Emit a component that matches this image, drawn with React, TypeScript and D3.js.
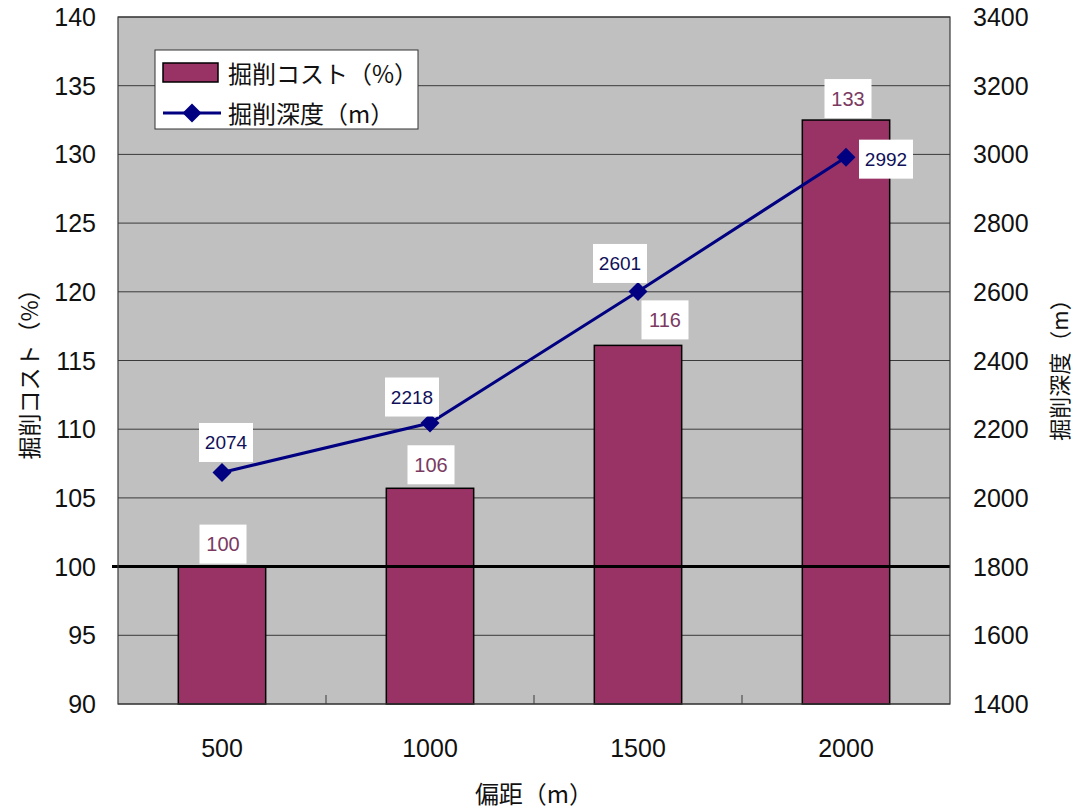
import React from "react";
import * as d3 from "d3";

const categories = ["500", "1000", "1500", "2000"];
const costValues = [100, 105.7, 116.1, 132.5];
const depthValues = [2074, 2218, 2601, 2992];
const leftTicks = [90, 95, 100, 105, 110, 115, 120, 125, 130, 135, 140];
const rightTicks = [1400, 1600, 1800, 2000, 2200, 2400, 2600, 2800, 3000, 3200, 3400];

const seriesNames = ["掘削コスト（%）", "掘削深度（m）"];
const xTitle = "偏距（m）";
const yLeftTitle = "掘削コスト（%）";
const yRightTitle = "掘削深度（m）";

// label placement offsets (manual adjustments, as in the source chart)
const barLabelDx = [1, 1, 27, 2];
const barLabelGap = [3, 4, 6, 2];
const lineLabelDx = [4, -18, -18, 40];
const lineLabelDy = [-30, -26, -28, 2];

const W = 1077;
const H = 809;
const M = { left: 118, right: 950, top: 17, bottom: 704 };

const BAR = "#993366";
const LINE = "#000080";
const FONT = "'Liberation Sans', Arial, sans-serif";
const CJK = "'Noto Sans CJK JP', 'Noto Sans', sans-serif";

export default function App() {
  const x = d3
    .scaleBand<string>()
    .domain(categories)
    .range([M.left, M.right])
    .paddingInner(0.58)
    .paddingOuter(0.29);
  const slot = d3.scaleBand<string>().domain(categories).range([M.left, M.right]);
  const yL = d3.scaleLinear().domain([90, 140]).range([M.bottom, M.top]);
  const yR = d3.scaleLinear().domain([1400, 3400]).range([M.bottom, M.top]);

  const line = d3
    .line<number>()
    .x((_, i) => (x(categories[i]) as number) + x.bandwidth() / 2)
    .y((d) => yR(d));

  const boxW = (s: string) => 26 + 7 * s.length;
  const boxH = 39;

  return (
    <svg
      width={W}
      height={H}
      style={{ position: "absolute", left: 0, top: 0, background: "#fff" }}
    >
      <rect x={0} y={0} width={W} height={H} fill="#fff" />
      {/* plot background */}
      <rect
        x={M.left}
        y={M.top}
        width={M.right - M.left}
        height={M.bottom - M.top}
        fill="#c0c0c0"
      />
      {/* grid lines */}
      {leftTicks.map((t) => (
        <line
          key={"g" + t}
          x1={M.left}
          x2={M.right}
          y1={yL(t)}
          y2={yL(t)}
          stroke="#3a3a3a"
          strokeWidth={1}
        />
      ))}
      {/* x category ticks inside bottom */}
      {categories.slice(1).map((c) => (
        <line
          key={"xt" + c}
          x1={slot(c) as number}
          x2={slot(c) as number}
          y1={M.bottom}
          y2={M.bottom - 9}
          stroke="#3a3a3a"
          strokeWidth={1}
        />
      ))}
      {/* bars */}
      {costValues.map((v, i) => (
        <rect
          key={"b" + i}
          x={x(categories[i]) as number}
          y={yL(v)}
          width={x.bandwidth()}
          height={yL(90) - yL(v)}
          fill={BAR}
          stroke="#000"
          strokeWidth={1.5}
        />
      ))}
      {/* baseline at 100 */}
      <line
        x1={M.left - 6}
        x2={M.right}
        y1={yL(100)}
        y2={yL(100)}
        stroke="#000"
        strokeWidth={3}
      />
      {/* plot border */}
      <rect
        x={M.left}
        y={M.top}
        width={M.right - M.left}
        height={M.bottom - M.top}
        fill="none"
        stroke="#3a3a3a"
        strokeWidth={1.2}
      />
      {/* line series */}
      <path d={line(depthValues) || ""} fill="none" stroke={LINE} strokeWidth={3} />
      {depthValues.map((v, i) => {
        const cx = (x(categories[i]) as number) + x.bandwidth() / 2;
        const cy = yR(v);
        const s = 9.5;
        return (
          <path
            key={"m" + i}
            d={`M${cx},${cy - s}L${cx + s},${cy}L${cx},${cy + s}L${cx - s},${cy}Z`}
            fill={LINE}
          />
        );
      })}
      {/* bar labels */}
      {costValues.map((v, i) => {
        const t = String(Math.round(v));
        const cx = (x(categories[i]) as number) + x.bandwidth() / 2 + barLabelDx[i];
        const bottom = yL(v) - barLabelGap[i];
        const w = boxW(t);
        return (
          <g key={"bl" + i}>
            <rect x={cx - w / 2} y={bottom - boxH} width={w} height={boxH} fill="#fff" />
            <text
              x={cx}
              y={bottom - boxH / 2}
              textAnchor="middle"
              dominantBaseline="central"
              fontFamily={FONT}
              fontSize={20}
              fill="#7a3a62"
            >
              {t}
            </text>
          </g>
        );
      })}
      {/* line labels */}
      {depthValues.map((v, i) => {
        const t = String(v);
        const cx = (x(categories[i]) as number) + x.bandwidth() / 2 + lineLabelDx[i];
        const cy = yR(v) + lineLabelDy[i];
        const w = boxW(t);
        return (
          <g key={"ll" + i}>
            <rect x={cx - w / 2} y={cy - boxH / 2} width={w} height={boxH} fill="#fff" />
            <text
              x={cx}
              y={cy}
              textAnchor="middle"
              dominantBaseline="central"
              fontFamily={FONT}
              fontSize={19}
              fill="#10105a"
            >
              {t}
            </text>
          </g>
        );
      })}
      {/* left axis labels */}
      {leftTicks.map((t) => (
        <text
          key={"lt" + t}
          x={96}
          y={yL(t)}
          textAnchor="end"
          dominantBaseline="central"
          fontFamily={FONT}
          fontSize={25}
          fill="#111"
        >
          {t}
        </text>
      ))}
      {/* right axis labels */}
      {rightTicks.map((t) => (
        <text
          key={"rt" + t}
          x={973}
          y={yR(t)}
          textAnchor="start"
          dominantBaseline="central"
          fontFamily={FONT}
          fontSize={25}
          fill="#111"
        >
          {t}
        </text>
      ))}
      {/* x axis labels */}
      {categories.map((c) => (
        <text
          key={"xl" + c}
          x={(slot(c) as number) + slot.bandwidth() / 2}
          y={748}
          textAnchor="middle"
          dominantBaseline="central"
          fontFamily={FONT}
          fontSize={25}
          fill="#111"
        >
          {c}
        </text>
      ))}
      {/* axis titles */}
      <text
        x={(M.left + M.right) / 2}
        y={792}
        textAnchor="middle"
        dominantBaseline="central"
        fontFamily={CJK}
        fontSize={24}
        fill="#111"
      >
        {xTitle}
      </text>
      <text
        transform={`translate(28,${(M.top + M.bottom) / 2 + 8}) rotate(-90)`}
        textAnchor="middle"
        dominantBaseline="central"
        fontFamily={CJK}
        fontSize={23}
        fill="#111"
      >
        {yLeftTitle}
      </text>
      <text
        transform={`translate(1058,${(M.top + M.bottom) / 2 + 4}) rotate(-90)`}
        textAnchor="middle"
        dominantBaseline="central"
        fontFamily={CJK}
        fontSize={22}
        fill="#111"
      >
        {yRightTitle}
      </text>
      {/* legend */}
      <g>
        <rect x={155} y={50} width={263} height={79} fill="#fff" stroke="#333" strokeWidth={1} />
        <rect x={163} y={63} width={55} height={19} fill={BAR} stroke="#000" strokeWidth={1.5} />
        <text
          x={228}
          y={72}
          dominantBaseline="central"
          fontFamily={CJK}
          fontSize={24}
          fill="#111"
        >
          {seriesNames[0]}
        </text>
        <line x1={163} x2={221} y1={113} y2={113} stroke={LINE} strokeWidth={3} />
        <path d="M192,103.5L201.5,113L192,122.5L182.5,113Z" fill={LINE} />
        <text
          x={228}
          y={112}
          dominantBaseline="central"
          fontFamily={CJK}
          fontSize={24}
          fill="#111"
        >
          {seriesNames[1]}
        </text>
      </g>
    </svg>
  );
}
